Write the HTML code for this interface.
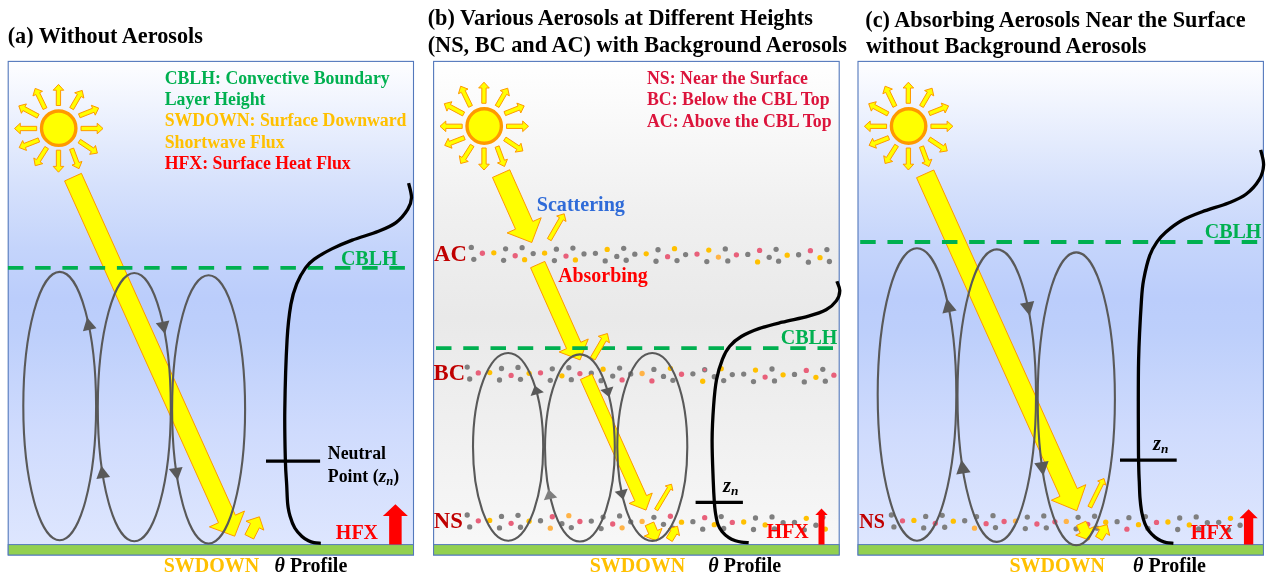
<!DOCTYPE html>
<html><head><meta charset="utf-8"><title>Aerosol-PBL schematic</title>
<style>
html,body{margin:0;padding:0;background:#fff;}
svg{display:block;will-change:transform;}
text{font-family:"Liberation Serif","Times New Roman",serif;font-weight:bold;}
</style></head><body>
<svg width="1270" height="582" viewBox="0 0 1270 582">
<defs>
<linearGradient id="gblue" x1="0" y1="0" x2="0" y2="1">
<stop offset="0" stop-color="#FEFEFF"/>
<stop offset="0.25" stop-color="#D6E1FC"/>
<stop offset="0.38" stop-color="#C4D4FB"/>
<stop offset="0.48" stop-color="#BBCDFB"/>
<stop offset="0.55" stop-color="#BDCFFB"/>
<stop offset="0.75" stop-color="#CFDBFD"/>
<stop offset="1" stop-color="#DFE7FE"/>
</linearGradient>
<linearGradient id="ggray" x1="0" y1="0" x2="0" y2="1">
<stop offset="0" stop-color="#FFFFFF"/>
<stop offset="0.3" stop-color="#F0F0F0"/>
<stop offset="0.52" stop-color="#E9E9E9"/>
<stop offset="0.75" stop-color="#F0F0F0"/>
<stop offset="1" stop-color="#F8F8F8"/>
</linearGradient>
</defs>
<rect width="1270" height="582" fill="#fff"/>
<!-- panel a -->
<rect x="8.2" y="61.4" width="405.3" height="493.6" fill="url(#gblue)" stroke="#5378BC" stroke-width="1.1"/>
<text x="7.7" y="42.6" font-size="22.24" fill="#000" text-anchor="start" >(a) Without Aerosols</text>
<text x="164.7" y="83.8" font-size="17.78" fill="#00B050" text-anchor="start" >CBLH: Convective Boundary</text>
<text x="164.7" y="105.1" font-size="17.78" fill="#00B050" text-anchor="start" >Layer Height</text>
<text x="164.7" y="126.3" font-size="17.78" fill="#FFC000" text-anchor="start" >SWDOWN: Surface Downward</text>
<text x="164.7" y="147.6" font-size="17.78" fill="#FFC000" text-anchor="start" >Shortwave Flux</text>
<text x="164.7" y="168.7" font-size="17.78" fill="#FF0000" text-anchor="start" >HFX: Surface Heat Flux</text>
<polygon points="56.25,105.49 56.32,90.19 53.17,90.17 58.5,84.4 63.77,90.23 60.62,90.21 60.55,105.51" fill="#FFFF00" stroke="#FF9900" stroke-width="1.0" stroke-linejoin="miter" />
<polygon points="69.74,107.52 77.42,94.33 74.7,92.74 82.2,90.4 83.86,98.08 81.14,96.49 73.46,109.68" fill="#FFFF00" stroke="#FF9900" stroke-width="1.0" stroke-linejoin="miter" />
<polygon points="78.51,113.8 92.52,108.24 91.35,105.31 98.7,108.1 95.26,115.17 94.1,112.24 80.09,117.8" fill="#FFFF00" stroke="#FF9900" stroke-width="1.0" stroke-linejoin="miter" />
<polygon points="81,126.35 97.2,126.35 97.2,123.2 103,128.5 97.2,133.8 97.2,130.65 81,130.65" fill="#FFFF00" stroke="#FF9900" stroke-width="1.0" stroke-linejoin="miter" />
<polygon points="80.49,139.31 93.75,148.1 95.49,145.48 97.4,153.1 89.64,154.31 91.38,151.69 78.11,142.89" fill="#FFFF00" stroke="#FF9900" stroke-width="1.0" stroke-linejoin="miter" />
<polygon points="73.62,148.05 78.99,162.51 81.95,161.42 79,168.7 72.01,165.11 74.96,164.01 69.58,149.55" fill="#FFFF00" stroke="#FF9900" stroke-width="1.0" stroke-linejoin="miter" />
<polygon points="60.65,150.2 60.65,166.4 63.8,166.4 58.5,172.2 53.2,166.4 56.35,166.4 56.35,150.2" fill="#FFFF00" stroke="#FF9900" stroke-width="1.0" stroke-linejoin="miter" />
<polygon points="48.51,148.75 40.13,161.96 42.78,163.65 35.2,165.7 33.84,157.96 36.5,159.65 44.89,146.45" fill="#FFFF00" stroke="#FF9900" stroke-width="1.0" stroke-linejoin="miter" />
<polygon points="39.68,141.9 25.38,147.49 26.53,150.42 19.2,147.6 22.67,140.55 23.82,143.49 38.12,137.9" fill="#FFFF00" stroke="#FF9900" stroke-width="1.0" stroke-linejoin="miter" />
<polygon points="36.7,130.65 20.3,130.65 20.3,133.8 14.5,128.5 20.3,123.2 20.3,126.35 36.7,126.35" fill="#FFFF00" stroke="#FF9900" stroke-width="1.0" stroke-linejoin="miter" />
<polygon points="37.09,118.1 22.9,110.53 21.42,113.31 18.8,105.9 26.41,103.95 24.93,106.73 39.11,114.3" fill="#FFFF00" stroke="#FF9900" stroke-width="1.0" stroke-linejoin="miter" />
<polygon points="43.07,109.54 35.8,94.56 32.96,95.93 35.2,88.4 42.5,91.3 39.67,92.68 46.93,107.66" fill="#FFFF00" stroke="#FF9900" stroke-width="1.0" stroke-linejoin="miter" />
<circle cx="58.7" cy="128.2" r="17.2" fill="#FFFF00" stroke="#FF9900" stroke-width="3.4"/>
<polygon points="81.43,173.35 235.37,515.17 244.49,511.06 234.7,536.2 209.39,526.87 218.5,522.77 64.57,180.95" fill="#FFFF00" stroke="#FF9900" stroke-width="1.0" stroke-linejoin="miter" />
<line x1="7.9" y1="267.8" x2="405" y2="267.8" stroke="#00B050" stroke-width="3.8" stroke-dasharray="15.5 11.75"/>
<text x="340.9" y="265" font-size="20.05" fill="#00B050" text-anchor="start" >CBLH</text>
<polygon points="244.93,534.59 250.56,523.43 246.06,521.15 259.4,516.8 263.82,530.12 259.31,527.85 253.67,539.01" fill="#FFFF00" stroke="#FF9900" stroke-width="1.0" stroke-linejoin="miter" />
<rect x="8.2" y="544.6" width="405.3" height="10.4" fill="#92D050" stroke="#5378BC" stroke-width="1"/>
<ellipse cx="59.7" cy="406.05" rx="36.4" ry="134.15" fill="none" stroke="#595959" stroke-width="2.1"/>
<ellipse cx="134.3" cy="407.15" rx="36.5" ry="134.15" fill="none" stroke="#595959" stroke-width="2.1"/>
<ellipse cx="208.6" cy="409.35" rx="36.5" ry="134.15" fill="none" stroke="#595959" stroke-width="2.1"/>
<polygon points="87.14,317.58 82.91,331.15 96.51,328.28" fill="#595959"/>
<polygon points="101.4,465.67 96.36,478.96 110.11,476.9" fill="#595959"/>
<polygon points="164.96,333.98 169.35,320.46 155.72,323.18" fill="#595959"/>
<polygon points="177.57,480.33 182.6,467.04 168.85,469.1" fill="#595959"/>
<path d="M408.6 183.1 C409.08 185.53 411.65 193.32 411.5 197.7 C411.35 202.08 410.28 205.25 407.7 209.4 C405.12 213.55 400.87 218.95 396 222.6 C391.13 226.25 385.8 228.38 378.5 231.3 C371.2 234.22 359.98 237.17 352.2 240.1 C344.42 243.03 338.12 245.73 331.8 248.9 C325.48 252.07 318.68 255.93 314.3 259.1 C309.92 262.27 308.43 263.77 305.5 267.9 C302.57 272.03 299.13 277.82 296.7 283.9 C294.27 289.98 292.5 295.15 290.9 304.4 C289.3 313.65 288.12 321.8 287.1 339.4 C286.08 357 285.08 389.73 284.8 410 C284.52 430.27 285.08 448.5 285.4 461 C285.72 473.5 286.32 477.83 286.7 485 C287.08 492.17 287.15 498.83 287.7 504 C288.25 509.17 288.82 512 290 516 C291.18 520 292.8 524.58 294.8 528 C296.8 531.42 299.72 534.37 302 536.5 C304.28 538.63 306.5 539.77 308.5 540.8 C310.5 541.83 311.95 542.28 314 542.7 C316.05 543.12 319.67 543.2 320.8 543.3" fill="none" stroke="#000" stroke-width="3.3"/>
<line x1="266" y1="461.1" x2="320.1" y2="461.1" stroke="#000" stroke-width="3.2"/>
<text x="327.8" y="458.5" font-size="17.78" fill="#000" text-anchor="start" >Neutral</text>
<text x="327.8" y="481.9" font-size="17.78">Point (<tspan font-style="italic" font-size="19.5">z</tspan><tspan font-style="italic" font-size="12.6" dy="3">n</tspan><tspan dy="-3">)</tspan></text>
<text x="335.85" y="538.6" font-size="20.0" fill="#FF0000" text-anchor="start" >HFX</text>
<polygon points="389.15,544.4 389.15,516 382.9,516 395.4,504.3 407.9,516 401.65,516 401.65,544.4" fill="#FF0000"/>
<text x="163.75" y="571.8" font-size="20.0" fill="#FFC000" text-anchor="start" >SWDOWN</text>
<text x="274.5" y="571.7" font-size="20.0"><tspan font-style="italic">θ</tspan> Profile</text>
<!-- panel b -->
<rect x="433.6" y="61.4" width="405.6" height="493.6" fill="url(#ggray)" stroke="#5378BC" stroke-width="1.1"/>
<text x="427.7" y="24.7" font-size="22.24" fill="#000" text-anchor="start" >(b) Various Aerosols at Different Heights</text>
<text x="427.7" y="51.7" font-size="22.27" fill="#000" text-anchor="start" >(NS, BC and AC) with Background Aerosols</text>
<text x="647" y="84" font-size="17.78" fill="#DC143C" text-anchor="start" >NS: Near the Surface</text>
<text x="647" y="105.2" font-size="17.78" fill="#DC143C" text-anchor="start" >BC: Below the CBL Top</text>
<text x="647" y="126.5" font-size="17.78" fill="#DC143C" text-anchor="start" >AC: Above the CBL Top</text>
<polygon points="481.75,103.29 481.82,87.99 478.67,87.97 484,82.2 489.27,88.03 486.12,88.01 486.05,103.31" fill="#FFFF00" stroke="#FF9900" stroke-width="1.0" stroke-linejoin="miter" />
<polygon points="495.24,105.32 502.92,92.13 500.2,90.54 507.7,88.2 509.36,95.88 506.64,94.29 498.96,107.48" fill="#FFFF00" stroke="#FF9900" stroke-width="1.0" stroke-linejoin="miter" />
<polygon points="504.01,111.6 518.02,106.04 516.85,103.11 524.2,105.9 520.76,112.97 519.6,110.04 505.59,115.6" fill="#FFFF00" stroke="#FF9900" stroke-width="1.0" stroke-linejoin="miter" />
<polygon points="506.5,124.15 522.7,124.15 522.7,121 528.5,126.3 522.7,131.6 522.7,128.45 506.5,128.45" fill="#FFFF00" stroke="#FF9900" stroke-width="1.0" stroke-linejoin="miter" />
<polygon points="505.99,137.11 519.25,145.9 520.99,143.28 522.9,150.9 515.14,152.11 516.88,149.49 503.61,140.69" fill="#FFFF00" stroke="#FF9900" stroke-width="1.0" stroke-linejoin="miter" />
<polygon points="499.12,145.85 504.49,160.31 507.45,159.22 504.5,166.5 497.51,162.91 500.46,161.81 495.08,147.35" fill="#FFFF00" stroke="#FF9900" stroke-width="1.0" stroke-linejoin="miter" />
<polygon points="486.15,148 486.15,164.2 489.3,164.2 484,170 478.7,164.2 481.85,164.2 481.85,148" fill="#FFFF00" stroke="#FF9900" stroke-width="1.0" stroke-linejoin="miter" />
<polygon points="474.01,146.55 465.63,159.76 468.28,161.45 460.7,163.5 459.34,155.76 462,157.45 470.39,144.25" fill="#FFFF00" stroke="#FF9900" stroke-width="1.0" stroke-linejoin="miter" />
<polygon points="465.18,139.7 450.88,145.29 452.03,148.22 444.7,145.4 448.17,138.35 449.32,141.29 463.62,135.7" fill="#FFFF00" stroke="#FF9900" stroke-width="1.0" stroke-linejoin="miter" />
<polygon points="462.2,128.45 445.8,128.45 445.8,131.6 440,126.3 445.8,121 445.8,124.15 462.2,124.15" fill="#FFFF00" stroke="#FF9900" stroke-width="1.0" stroke-linejoin="miter" />
<polygon points="462.59,115.9 448.4,108.33 446.92,111.11 444.3,103.7 451.91,101.75 450.43,104.53 464.61,112.1" fill="#FFFF00" stroke="#FF9900" stroke-width="1.0" stroke-linejoin="miter" />
<polygon points="468.57,107.34 461.3,92.36 458.46,93.73 460.7,86.2 468,89.1 465.17,90.48 472.43,105.46" fill="#FFFF00" stroke="#FF9900" stroke-width="1.0" stroke-linejoin="miter" />
<circle cx="484.2" cy="126" r="17.2" fill="#FFFF00" stroke="#FF9900" stroke-width="3.4"/>
<circle cx="471.3" cy="247.4" r="2.65" fill="#7F7F7F"/>
<circle cx="473.8" cy="259.32" r="2.65" fill="#7F7F7F"/>
<circle cx="482.4" cy="253.27" r="2.65" fill="#E8607A"/>
<circle cx="493.8" cy="252.84" r="2.65" fill="#FFC000"/>
<circle cx="505.6" cy="248.81" r="2.65" fill="#7F7F7F"/>
<circle cx="503.6" cy="260.3" r="2.65" fill="#7F7F7F"/>
<circle cx="515.2" cy="255.77" r="2.65" fill="#E8607A"/>
<circle cx="522.1" cy="247.71" r="2.65" fill="#7F7F7F"/>
<circle cx="524.6" cy="259.63" r="2.65" fill="#FFC000"/>
<circle cx="533.2" cy="253.58" r="2.65" fill="#7F7F7F"/>
<circle cx="544.6" cy="253.15" r="2.65" fill="#FFC000"/>
<circle cx="556.4" cy="249.13" r="2.65" fill="#7F7F7F"/>
<circle cx="554.4" cy="260.62" r="2.65" fill="#7F7F7F"/>
<circle cx="566" cy="256.09" r="2.65" fill="#E8607A"/>
<circle cx="572.9" cy="248.03" r="2.65" fill="#7F7F7F"/>
<circle cx="575.4" cy="259.95" r="2.65" fill="#FFC000"/>
<circle cx="584" cy="253.9" r="2.65" fill="#7F7F7F"/>
<circle cx="595.4" cy="253.47" r="2.65" fill="#7F7F7F"/>
<circle cx="607.2" cy="249.44" r="2.65" fill="#FFC000"/>
<circle cx="605.2" cy="260.93" r="2.65" fill="#7F7F7F"/>
<circle cx="616.8" cy="256.4" r="2.65" fill="#7F7F7F"/>
<circle cx="623.7" cy="248.34" r="2.65" fill="#7F7F7F"/>
<circle cx="626.2" cy="260.26" r="2.65" fill="#7F7F7F"/>
<circle cx="634.8" cy="254.21" r="2.65" fill="#7F7F7F"/>
<circle cx="646.2" cy="253.78" r="2.65" fill="#FFC000"/>
<circle cx="658" cy="249.76" r="2.65" fill="#7F7F7F"/>
<circle cx="656" cy="261.25" r="2.65" fill="#7F7F7F"/>
<circle cx="667.6" cy="256.72" r="2.65" fill="#E8607A"/>
<circle cx="674.5" cy="248.66" r="2.65" fill="#FFC000"/>
<circle cx="677" cy="260.58" r="2.65" fill="#7F7F7F"/>
<circle cx="685.6" cy="254.53" r="2.65" fill="#7F7F7F"/>
<circle cx="697" cy="254.1" r="2.65" fill="#E8607A"/>
<circle cx="708.8" cy="250.07" r="2.65" fill="#FFC000"/>
<circle cx="706.8" cy="261.56" r="2.65" fill="#7F7F7F"/>
<circle cx="718.4" cy="257.03" r="2.65" fill="#FFB347"/>
<circle cx="725.3" cy="248.97" r="2.65" fill="#7F7F7F"/>
<circle cx="727.8" cy="260.89" r="2.65" fill="#7F7F7F"/>
<circle cx="736.4" cy="254.84" r="2.65" fill="#E8607A"/>
<circle cx="747.8" cy="254.41" r="2.65" fill="#7F7F7F"/>
<circle cx="759.6" cy="250.39" r="2.65" fill="#E8607A"/>
<circle cx="757.6" cy="261.88" r="2.65" fill="#FFC000"/>
<circle cx="769.2" cy="257.35" r="2.65" fill="#7F7F7F"/>
<circle cx="776.1" cy="249.29" r="2.65" fill="#7F7F7F"/>
<circle cx="778.6" cy="261.21" r="2.65" fill="#7F7F7F"/>
<circle cx="787.2" cy="255.16" r="2.65" fill="#FFC000"/>
<circle cx="798.6" cy="254.73" r="2.65" fill="#7F7F7F"/>
<circle cx="810.4" cy="250.7" r="2.65" fill="#E8607A"/>
<circle cx="808.4" cy="262.19" r="2.65" fill="#7F7F7F"/>
<circle cx="820" cy="257.66" r="2.65" fill="#FFC000"/>
<circle cx="826.9" cy="249.6" r="2.65" fill="#7F7F7F"/>
<circle cx="829.4" cy="261.52" r="2.65" fill="#7F7F7F"/>
<circle cx="467.2" cy="367.1" r="2.65" fill="#7F7F7F"/>
<circle cx="469.7" cy="379.02" r="2.65" fill="#7F7F7F"/>
<circle cx="478.3" cy="372.97" r="2.65" fill="#E8607A"/>
<circle cx="489.7" cy="372.54" r="2.65" fill="#FFC000"/>
<circle cx="501.5" cy="368.51" r="2.65" fill="#7F7F7F"/>
<circle cx="499.5" cy="380" r="2.65" fill="#7F7F7F"/>
<circle cx="511.1" cy="375.47" r="2.65" fill="#E8607A"/>
<circle cx="518" cy="367.41" r="2.65" fill="#7F7F7F"/>
<circle cx="520.5" cy="379.33" r="2.65" fill="#7F7F7F"/>
<circle cx="529.1" cy="373.28" r="2.65" fill="#FFC000"/>
<circle cx="540.5" cy="372.85" r="2.65" fill="#E8607A"/>
<circle cx="552.3" cy="368.83" r="2.65" fill="#7F7F7F"/>
<circle cx="550.3" cy="380.32" r="2.65" fill="#7F7F7F"/>
<circle cx="561.9" cy="375.79" r="2.65" fill="#FFC000"/>
<circle cx="568.8" cy="367.73" r="2.65" fill="#7F7F7F"/>
<circle cx="571.3" cy="379.65" r="2.65" fill="#7F7F7F"/>
<circle cx="579.9" cy="373.6" r="2.65" fill="#E8607A"/>
<circle cx="591.3" cy="373.17" r="2.65" fill="#7F7F7F"/>
<circle cx="603.1" cy="369.14" r="2.65" fill="#FFC000"/>
<circle cx="601.1" cy="380.63" r="2.65" fill="#7F7F7F"/>
<circle cx="612.7" cy="376.1" r="2.65" fill="#7F7F7F"/>
<circle cx="619.6" cy="368.04" r="2.65" fill="#7F7F7F"/>
<circle cx="622.1" cy="379.96" r="2.65" fill="#E8607A"/>
<circle cx="630.7" cy="373.91" r="2.65" fill="#7F7F7F"/>
<circle cx="642.1" cy="373.48" r="2.65" fill="#FFB347"/>
<circle cx="653.9" cy="369.46" r="2.65" fill="#7F7F7F"/>
<circle cx="651.9" cy="380.95" r="2.65" fill="#E8607A"/>
<circle cx="663.5" cy="376.42" r="2.65" fill="#7F7F7F"/>
<circle cx="670.4" cy="368.36" r="2.65" fill="#FFC000"/>
<circle cx="672.9" cy="380.28" r="2.65" fill="#7F7F7F"/>
<circle cx="681.5" cy="374.23" r="2.65" fill="#E8607A"/>
<circle cx="692.9" cy="373.8" r="2.65" fill="#7F7F7F"/>
<circle cx="704.7" cy="369.77" r="2.65" fill="#7F7F7F"/><circle cx="704.7" cy="369.77" r="1.6" fill="#E8607A"/>
<circle cx="702.7" cy="381.26" r="2.65" fill="#FFC000"/>
<circle cx="714.3" cy="376.73" r="2.65" fill="#7F7F7F"/>
<circle cx="721.2" cy="368.67" r="2.65" fill="#FFC000"/>
<circle cx="723.7" cy="380.59" r="2.65" fill="#7F7F7F"/>
<circle cx="732.3" cy="374.54" r="2.65" fill="#7F7F7F"/>
<circle cx="743.7" cy="374.11" r="2.65" fill="#7F7F7F"/>
<circle cx="755.5" cy="370.09" r="2.65" fill="#FFC000"/>
<circle cx="753.5" cy="381.58" r="2.65" fill="#7F7F7F"/>
<circle cx="765.1" cy="377.05" r="2.65" fill="#E8607A"/>
<circle cx="772" cy="368.99" r="2.65" fill="#7F7F7F"/>
<circle cx="774.5" cy="380.91" r="2.65" fill="#7F7F7F"/>
<circle cx="783.1" cy="374.86" r="2.65" fill="#FFC000"/>
<circle cx="794.5" cy="374.43" r="2.65" fill="#7F7F7F"/>
<circle cx="806.3" cy="370.4" r="2.65" fill="#E8607A"/>
<circle cx="804.3" cy="381.89" r="2.65" fill="#7F7F7F"/>
<circle cx="815.9" cy="377.36" r="2.65" fill="#FFC000"/>
<circle cx="822.8" cy="369.3" r="2.65" fill="#7F7F7F"/>
<circle cx="825.3" cy="381.22" r="2.65" fill="#7F7F7F"/>
<circle cx="833.9" cy="375.17" r="2.65" fill="#E8607A"/>
<circle cx="467.2" cy="515" r="2.65" fill="#7F7F7F"/>
<circle cx="469.7" cy="526.92" r="2.65" fill="#7F7F7F"/>
<circle cx="478.3" cy="520.87" r="2.65" fill="#E8607A"/>
<circle cx="489.7" cy="520.44" r="2.65" fill="#FFC000"/>
<circle cx="501.5" cy="516.41" r="2.65" fill="#7F7F7F"/>
<circle cx="499.5" cy="527.9" r="2.65" fill="#7F7F7F"/>
<circle cx="511.1" cy="523.37" r="2.65" fill="#E8607A"/>
<circle cx="518" cy="515.31" r="2.65" fill="#7F7F7F"/>
<circle cx="520.5" cy="527.23" r="2.65" fill="#7F7F7F"/>
<circle cx="529.1" cy="521.18" r="2.65" fill="#FFC000"/>
<circle cx="540.5" cy="520.75" r="2.65" fill="#7F7F7F"/>
<circle cx="552.3" cy="516.73" r="2.65" fill="#E8607A"/>
<circle cx="550.3" cy="528.22" r="2.65" fill="#FFB347"/>
<circle cx="561.9" cy="523.69" r="2.65" fill="#7F7F7F"/>
<circle cx="568.8" cy="515.63" r="2.65" fill="#FFB347"/>
<circle cx="571.3" cy="527.55" r="2.65" fill="#7F7F7F"/>
<circle cx="579.9" cy="521.5" r="2.65" fill="#E8607A"/>
<circle cx="591.3" cy="521.07" r="2.65" fill="#7F7F7F"/>
<circle cx="603.1" cy="517.04" r="2.65" fill="#7F7F7F"/>
<circle cx="601.1" cy="528.53" r="2.65" fill="#7F7F7F"/>
<circle cx="612.7" cy="524" r="2.65" fill="#E8607A"/>
<circle cx="619.6" cy="515.94" r="2.65" fill="#7F7F7F"/>
<circle cx="622.1" cy="527.86" r="2.65" fill="#FFB347"/>
<circle cx="630.7" cy="521.81" r="2.65" fill="#7F7F7F"/>
<circle cx="642.1" cy="521.38" r="2.65" fill="#FFB347"/>
<circle cx="653.9" cy="517.36" r="2.65" fill="#7F7F7F"/>
<circle cx="651.9" cy="528.85" r="2.65" fill="#7F7F7F"/>
<circle cx="663.5" cy="524.32" r="2.65" fill="#7F7F7F"/>
<circle cx="670.4" cy="516.26" r="2.65" fill="#E8607A"/>
<circle cx="672.9" cy="528.18" r="2.65" fill="#7F7F7F"/>
<circle cx="681.5" cy="522.13" r="2.65" fill="#FFC000"/>
<circle cx="692.9" cy="521.7" r="2.65" fill="#7F7F7F"/>
<circle cx="704.7" cy="517.67" r="2.65" fill="#E8607A"/>
<circle cx="702.7" cy="529.16" r="2.65" fill="#7F7F7F"/>
<circle cx="714.3" cy="524.63" r="2.65" fill="#FFC000"/>
<circle cx="721.2" cy="516.57" r="2.65" fill="#7F7F7F"/>
<circle cx="723.7" cy="528.49" r="2.65" fill="#7F7F7F"/>
<circle cx="732.3" cy="522.44" r="2.65" fill="#E8607A"/>
<circle cx="743.7" cy="522.01" r="2.65" fill="#FFC000"/>
<circle cx="755.5" cy="517.99" r="2.65" fill="#7F7F7F"/>
<circle cx="753.5" cy="529.48" r="2.65" fill="#7F7F7F"/>
<circle cx="765.1" cy="524.95" r="2.65" fill="#FFC000"/>
<circle cx="772" cy="516.89" r="2.65" fill="#7F7F7F"/>
<circle cx="774.5" cy="528.81" r="2.65" fill="#7F7F7F"/>
<circle cx="783.1" cy="522.76" r="2.65" fill="#7F7F7F"/>
<circle cx="794.5" cy="522.33" r="2.65" fill="#7F7F7F"/>
<circle cx="806.3" cy="518.3" r="2.65" fill="#FFC000"/>
<circle cx="804.3" cy="529.79" r="2.65" fill="#7F7F7F"/>
<circle cx="815.9" cy="525.26" r="2.65" fill="#7F7F7F"/>
<circle cx="822.8" cy="517.2" r="2.65" fill="#7F7F7F"/>
<circle cx="825.3" cy="529.12" r="2.65" fill="#FFC000"/>
<text x="434.1" y="261.2" font-size="22.67" fill="#C00000" text-anchor="start" >AC</text>
<text x="433.6" y="380.2" font-size="22.67" fill="#C00000" text-anchor="start" >BC</text>
<text x="433.8" y="527.9" font-size="22.67" fill="#C00000" text-anchor="start" >NS</text>
<text x="536.75" y="210.9" font-size="20.1" fill="#2F6BD8" text-anchor="start" >Scattering</text>
<text x="558.2" y="282" font-size="19.9" fill="#FF0000" text-anchor="start" >Absorbing</text>
<polygon points="509.73,169.75 532.78,221.48 541.18,217.74 531.8,242.5 507.11,232.92 515.52,229.17 492.47,177.45" fill="#FFFF00" stroke="#FF9900" stroke-width="1.0" stroke-linejoin="miter" />
<polygon points="547.39,238.5 559.44,217.64 556.67,216.04 564.2,213.8 566.03,221.44 563.25,219.84 551.21,240.7" fill="#FFFF00" stroke="#FF9900" stroke-width="1.0" stroke-linejoin="miter" />
<polygon points="544.83,261.38 580.81,342.29 588.25,338.98 580.1,359.9 559.11,351.94 566.55,348.63 530.57,267.72" fill="#FFFF00" stroke="#FF9900" stroke-width="1.0" stroke-linejoin="miter" />
<line x1="436" y1="348.1" x2="834" y2="348.1" stroke="#00B050" stroke-width="3.8" stroke-dasharray="15.5 11.75"/>
<text x="780.7" y="344" font-size="20.05" fill="#00B050" text-anchor="start" >CBLH</text>
<polygon points="590.41,357.36 601.58,338.21 598.26,336.27 607.4,333.5 609.49,342.82 606.16,340.88 594.99,360.04" fill="#FFFF00" stroke="#FF9900" stroke-width="1.0" stroke-linejoin="miter" />
<polygon points="592.04,374.23 646.52,495.62 652.22,493.06 646,510.1 629.14,503.42 634.84,500.86 580.36,379.47" fill="#FFFF00" stroke="#FF9900" stroke-width="1.0" stroke-linejoin="miter" />
<polygon points="654.61,508.85 667.5,487.29 665.31,485.98 671.5,484.2 672.87,490.49 670.68,489.18 657.79,510.75" fill="#FFFF00" stroke="#FF9900" stroke-width="1.0" stroke-linejoin="miter" />
<polygon points="653.77,522.01 657.41,530.44 662.04,528.43 656.9,541 644.23,536.12 648.87,534.12 645.23,525.69" fill="#FFFF00" stroke="#FF9900" stroke-width="1.0" stroke-linejoin="miter" />
<polygon points="666.31,537.83 670.87,530.35 668.18,528.72 677.5,526.2 679.53,535.64 676.84,534 672.29,541.47" fill="#FFFF00" stroke="#FF9900" stroke-width="1.0" stroke-linejoin="miter" />
<rect x="433.6" y="544.6" width="405.6" height="10.4" fill="#92D050" stroke="#5378BC" stroke-width="1"/>
<ellipse cx="508.1" cy="446.85" rx="35.1" ry="93.85" fill="none" stroke="#595959" stroke-width="2.1"/>
<ellipse cx="579.9" cy="447.95" rx="34.9" ry="93.55" fill="none" stroke="#595959" stroke-width="2.1"/>
<ellipse cx="652.3" cy="446.95" rx="35" ry="93.95" fill="none" stroke="#595959" stroke-width="2.1"/>
<polygon points="534.7,385.38 530.6,396.12 543.87,392.32" fill="#595959"/>
<polygon points="548.53,489.31 543.85,500.31 557.26,497.48" fill="#7F7F7F"/>
<polygon points="609.27,397.14 613.36,386.48 600.34,390.04" fill="#595959"/>
<polygon points="623.28,499.78 627.66,488.78 614.67,491.66" fill="#595959"/>
<path d="M836.9 281.3 C837.38 282.87 839.9 287.43 839.8 290.7 C839.7 293.97 838.58 297.73 836.3 300.9 C834.02 304.07 830.73 307.17 826.1 309.7 C821.47 312.23 815.82 314.02 808.5 316.1 C801.18 318.18 790.47 320.12 782.2 322.2 C773.93 324.28 765.72 326.22 758.9 328.6 C752.08 330.98 746.17 333.57 741.3 336.5 C736.43 339.43 732.85 342.4 729.7 346.2 C726.55 350 724.6 353.7 722.4 359.3 C720.2 364.9 717.97 372.02 716.5 379.8 C715.03 387.58 714.33 395.97 713.6 406 C712.87 416.03 712.17 427.67 712.1 440 C712.03 452.33 712.82 469.53 713.2 480 C713.58 490.47 714 497.18 714.4 502.8 C714.8 508.42 715 510.08 715.6 513.7 C716.2 517.32 716.9 521.5 718 524.5 C719.1 527.5 720.4 529.5 722.2 531.7 C724 533.9 726.58 536.18 728.8 537.7 C731.02 539.22 733.38 540.05 735.5 540.8 C737.62 541.55 739.3 541.9 741.5 542.2 C743.7 542.5 747.5 542.53 748.7 542.6" fill="none" stroke="#000" stroke-width="3.3"/>
<line x1="695.6" y1="502.4" x2="742.9" y2="502.4" stroke="#000" stroke-width="3.2"/>
<text x="723" y="492.4" font-size="20.5" font-style="italic">z<tspan font-size="13.3" dy="2.8">n</tspan></text>
<text x="766.45" y="538.4" font-size="20.0" fill="#FF0000" text-anchor="start" >HFX</text>
<polygon points="818.5,544.4 818.5,514.9 815.3,514.9 821.5,508.6 827.7,514.9 824.5,514.9 824.5,544.4" fill="#FF0000"/>
<text x="589.75" y="571.8" font-size="20.0" fill="#FFC000" text-anchor="start" >SWDOWN</text>
<text x="708.3" y="571.7" font-size="20.0"><tspan font-style="italic">θ</tspan> Profile</text>
<!-- panel c -->
<rect x="858" y="61.4" width="405.4" height="493.6" fill="url(#gblue)" stroke="#5378BC" stroke-width="1.1"/>
<text x="865.3" y="26.7" font-size="22.24" fill="#000" text-anchor="start" >(c) Absorbing Aerosols Near the Surface</text>
<text x="866.1" y="53.2" font-size="22.2" fill="#000" text-anchor="start" >without Background Aerosols</text>
<polygon points="906.15,103.29 906.22,87.99 903.07,87.97 908.4,82.2 913.67,88.03 910.52,88.01 910.45,103.31" fill="#FFFF00" stroke="#FF9900" stroke-width="1.0" stroke-linejoin="miter" />
<polygon points="919.64,105.32 927.32,92.13 924.6,90.54 932.1,88.2 933.76,95.88 931.04,94.29 923.36,107.48" fill="#FFFF00" stroke="#FF9900" stroke-width="1.0" stroke-linejoin="miter" />
<polygon points="928.41,111.6 942.42,106.04 941.25,103.11 948.6,105.9 945.16,112.97 944,110.04 929.99,115.6" fill="#FFFF00" stroke="#FF9900" stroke-width="1.0" stroke-linejoin="miter" />
<polygon points="930.9,124.15 947.1,124.15 947.1,121 952.9,126.3 947.1,131.6 947.1,128.45 930.9,128.45" fill="#FFFF00" stroke="#FF9900" stroke-width="1.0" stroke-linejoin="miter" />
<polygon points="930.39,137.11 943.65,145.9 945.39,143.28 947.3,150.9 939.54,152.11 941.28,149.49 928.01,140.69" fill="#FFFF00" stroke="#FF9900" stroke-width="1.0" stroke-linejoin="miter" />
<polygon points="923.52,145.85 928.89,160.31 931.85,159.22 928.9,166.5 921.91,162.91 924.86,161.81 919.48,147.35" fill="#FFFF00" stroke="#FF9900" stroke-width="1.0" stroke-linejoin="miter" />
<polygon points="910.55,148 910.55,164.2 913.7,164.2 908.4,170 903.1,164.2 906.25,164.2 906.25,148" fill="#FFFF00" stroke="#FF9900" stroke-width="1.0" stroke-linejoin="miter" />
<polygon points="898.41,146.55 890.03,159.76 892.68,161.45 885.1,163.5 883.74,155.76 886.4,157.45 894.79,144.25" fill="#FFFF00" stroke="#FF9900" stroke-width="1.0" stroke-linejoin="miter" />
<polygon points="889.58,139.7 875.28,145.29 876.43,148.22 869.1,145.4 872.57,138.35 873.72,141.29 888.02,135.7" fill="#FFFF00" stroke="#FF9900" stroke-width="1.0" stroke-linejoin="miter" />
<polygon points="886.6,128.45 870.2,128.45 870.2,131.6 864.4,126.3 870.2,121 870.2,124.15 886.6,124.15" fill="#FFFF00" stroke="#FF9900" stroke-width="1.0" stroke-linejoin="miter" />
<polygon points="886.99,115.9 872.8,108.33 871.32,111.11 868.7,103.7 876.31,101.75 874.83,104.53 889.01,112.1" fill="#FFFF00" stroke="#FF9900" stroke-width="1.0" stroke-linejoin="miter" />
<polygon points="892.97,107.34 885.7,92.36 882.86,93.73 885.1,86.2 892.4,89.1 889.57,90.48 896.83,105.46" fill="#FFFF00" stroke="#FF9900" stroke-width="1.0" stroke-linejoin="miter" />
<circle cx="908.6" cy="126" r="17.2" fill="#FFFF00" stroke="#FF9900" stroke-width="3.4"/>
<circle cx="891.4" cy="515" r="2.65" fill="#7F7F7F"/>
<circle cx="893.9" cy="526.92" r="2.65" fill="#7F7F7F"/>
<circle cx="902.5" cy="520.87" r="2.65" fill="#E8607A"/>
<circle cx="913.9" cy="520.44" r="2.65" fill="#FFC000"/>
<circle cx="925.7" cy="516.41" r="2.65" fill="#7F7F7F"/>
<circle cx="923.7" cy="527.9" r="2.65" fill="#7F7F7F"/>
<circle cx="935.3" cy="523.37" r="2.65" fill="#E8607A"/>
<circle cx="942.2" cy="515.31" r="2.65" fill="#7F7F7F"/>
<circle cx="944.7" cy="527.23" r="2.65" fill="#7F7F7F"/>
<circle cx="953.3" cy="521.18" r="2.65" fill="#FFC000"/>
<circle cx="964.7" cy="520.75" r="2.65" fill="#7F7F7F"/>
<circle cx="976.5" cy="516.73" r="2.65" fill="#7F7F7F"/>
<circle cx="974.5" cy="528.22" r="2.65" fill="#FFB347"/>
<circle cx="986.1" cy="523.69" r="2.65" fill="#E8607A"/>
<circle cx="993" cy="515.63" r="2.65" fill="#7F7F7F"/>
<circle cx="995.5" cy="527.55" r="2.65" fill="#7F7F7F"/>
<circle cx="1004.1" cy="521.5" r="2.65" fill="#E8607A"/>
<circle cx="1015.5" cy="521.07" r="2.65" fill="#FFB347"/>
<circle cx="1027.3" cy="517.04" r="2.65" fill="#7F7F7F"/>
<circle cx="1025.3" cy="528.53" r="2.65" fill="#7F7F7F"/>
<circle cx="1036.9" cy="524" r="2.65" fill="#E8607A"/>
<circle cx="1043.8" cy="515.94" r="2.65" fill="#7F7F7F"/>
<circle cx="1046.3" cy="527.86" r="2.65" fill="#7F7F7F"/>
<circle cx="1054.9" cy="521.81" r="2.65" fill="#E8607A"/>
<circle cx="1066.3" cy="521.38" r="2.65" fill="#FFB347"/>
<circle cx="1078.1" cy="517.36" r="2.65" fill="#7F7F7F"/>
<circle cx="1076.1" cy="528.85" r="2.65" fill="#7F7F7F"/>
<circle cx="1087.7" cy="524.32" r="2.65" fill="#E8607A"/>
<circle cx="1094.6" cy="516.26" r="2.65" fill="#7F7F7F"/>
<circle cx="1097.1" cy="528.18" r="2.65" fill="#7F7F7F"/>
<circle cx="1105.7" cy="522.13" r="2.65" fill="#FFC000"/>
<circle cx="1117.1" cy="521.7" r="2.65" fill="#7F7F7F"/>
<circle cx="1128.9" cy="517.67" r="2.65" fill="#7F7F7F"/>
<circle cx="1126.9" cy="529.16" r="2.65" fill="#E8607A"/>
<circle cx="1138.5" cy="524.63" r="2.65" fill="#FFC000"/>
<circle cx="1145.4" cy="516.57" r="2.65" fill="#7F7F7F"/>
<circle cx="1147.9" cy="528.49" r="2.65" fill="#7F7F7F"/>
<circle cx="1156.5" cy="522.44" r="2.65" fill="#E8607A"/>
<circle cx="1167.9" cy="522.01" r="2.65" fill="#FFC000"/>
<circle cx="1179.7" cy="517.99" r="2.65" fill="#7F7F7F"/>
<circle cx="1177.7" cy="529.48" r="2.65" fill="#7F7F7F"/>
<circle cx="1189.3" cy="524.95" r="2.65" fill="#FFC000"/>
<circle cx="1196.2" cy="516.89" r="2.65" fill="#7F7F7F"/>
<circle cx="1198.7" cy="528.81" r="2.65" fill="#7F7F7F"/>
<circle cx="1207.3" cy="522.76" r="2.65" fill="#7F7F7F"/>
<circle cx="1218.7" cy="522.33" r="2.65" fill="#7F7F7F"/>
<circle cx="1230.5" cy="518.3" r="2.65" fill="#FFC000"/>
<circle cx="1228.5" cy="529.79" r="2.65" fill="#7F7F7F"/>
<circle cx="1240.1" cy="525.26" r="2.65" fill="#7F7F7F"/>
<circle cx="1247" cy="517.2" r="2.65" fill="#7F7F7F"/>
<circle cx="1249.5" cy="529.12" r="2.65" fill="#7F7F7F"/>
<text x="859.3" y="527.6" font-size="20.0" fill="#C00000" text-anchor="start" >NS</text>
<polygon points="933.77,169.97 1077.21,488.58 1085.82,484.7 1076.8,510.7 1051.36,500.22 1059.97,496.34 916.53,177.73" fill="#FFFF00" stroke="#FF9900" stroke-width="1.0" stroke-linejoin="miter" />
<line x1="860.2" y1="242" x2="1258" y2="242" stroke="#00B050" stroke-width="3.8" stroke-dasharray="15.5 11.75"/>
<text x="1204.7" y="238" font-size="20.05" fill="#00B050" text-anchor="start" >CBLH</text>
<polygon points="1087.96,506.19 1099.9,482.16 1097.66,481.04 1104,478.5 1105.81,485.09 1103.57,483.98 1091.64,508.01" fill="#FFFF00" stroke="#FF9900" stroke-width="1.0" stroke-linejoin="miter" />
<polygon points="1085.88,521.15 1089.42,528.78 1093.86,526.72 1089,540 1075.72,535.14 1080.16,533.08 1076.62,525.45" fill="#FFFF00" stroke="#FF9900" stroke-width="1.0" stroke-linejoin="miter" />
<polygon points="1095.55,536.41 1099.66,529.49 1096.39,527.54 1107.1,524.6 1109.63,535.41 1106.37,533.47 1102.25,540.39" fill="#FFFF00" stroke="#FF9900" stroke-width="1.0" stroke-linejoin="miter" />
<rect x="858" y="544.6" width="405.4" height="10.4" fill="#92D050" stroke="#5378BC" stroke-width="1"/>
<ellipse cx="917" cy="394.5" rx="39.3" ry="146.2" fill="none" stroke="#595959" stroke-width="2.1"/>
<ellipse cx="996.75" cy="395.65" rx="39.25" ry="146.25" fill="none" stroke="#595959" stroke-width="2.1"/>
<ellipse cx="1076.3" cy="398.85" rx="38.6" ry="146.45" fill="none" stroke="#595959" stroke-width="2.1"/>
<polygon points="946.73,298.49 942.41,313.38 956.61,310.44" fill="#595959"/>
<polygon points="961.42,459.82 956.27,474.44 970.61,472.31" fill="#595959"/>
<polygon points="1029.71,315.82 1034.18,300.98 1019.95,303.78" fill="#595959"/>
<polygon points="1043.38,475.68 1048.61,461.09 1034.25,463.15" fill="#595959"/>
<path d="M1260.7 149.9 C1261.18 152.42 1263.85 160.03 1263.6 165 C1263.35 169.97 1262.13 174.82 1259.2 179.7 C1256.27 184.58 1251.12 190.42 1246 194.3 C1240.88 198.18 1235.8 200.08 1228.5 203 C1221.2 205.92 1209.98 208.88 1202.2 211.8 C1194.42 214.72 1187.88 217.1 1181.8 220.5 C1175.72 223.9 1169.83 228.63 1165.7 232.2 C1161.57 235.77 1159.67 238 1157 241.9 C1154.33 245.8 1151.9 249.42 1149.7 255.6 C1147.5 261.78 1145.17 271.7 1143.8 279 C1142.43 286.3 1142.37 285.9 1141.5 299.4 C1140.63 312.9 1139.12 336.57 1138.6 360 C1138.08 383.43 1138.37 421.67 1138.4 440 C1138.43 458.33 1138.65 463 1138.8 470 C1138.95 477 1139.1 477.33 1139.3 482 C1139.5 486.67 1139.58 492.92 1140 498 C1140.42 503.08 1141 508.28 1141.8 512.5 C1142.6 516.72 1143.6 520.2 1144.8 523.3 C1146 526.4 1147.3 528.8 1149 531.1 C1150.7 533.4 1153 535.48 1155 537.1 C1157 538.72 1159.08 539.87 1161 540.8 C1162.92 541.73 1164.43 542.28 1166.5 542.7 C1168.57 543.12 1172.25 543.2 1173.4 543.3" fill="none" stroke="#000" stroke-width="3.3"/>
<line x1="1120" y1="460.1" x2="1176.7" y2="460.1" stroke="#000" stroke-width="3.2"/>
<text x="1153" y="450.4" font-size="20.5" font-style="italic">z<tspan font-size="13.3" dy="2.8">n</tspan></text>
<text x="1190.85" y="539" font-size="20.0" fill="#FF0000" text-anchor="start" >HFX</text>
<polygon points="1243.95,544.4 1243.95,518.3 1239.45,518.3 1248.6,509.3 1257.75,518.3 1253.25,518.3 1253.25,544.4" fill="#FF0000"/>
<text x="1009.45" y="571.8" font-size="20.0" fill="#FFC000" text-anchor="start" >SWDOWN</text>
<text x="1133.1" y="571.7" font-size="20.0"><tspan font-style="italic">θ</tspan> Profile</text>
</svg></body></html>
